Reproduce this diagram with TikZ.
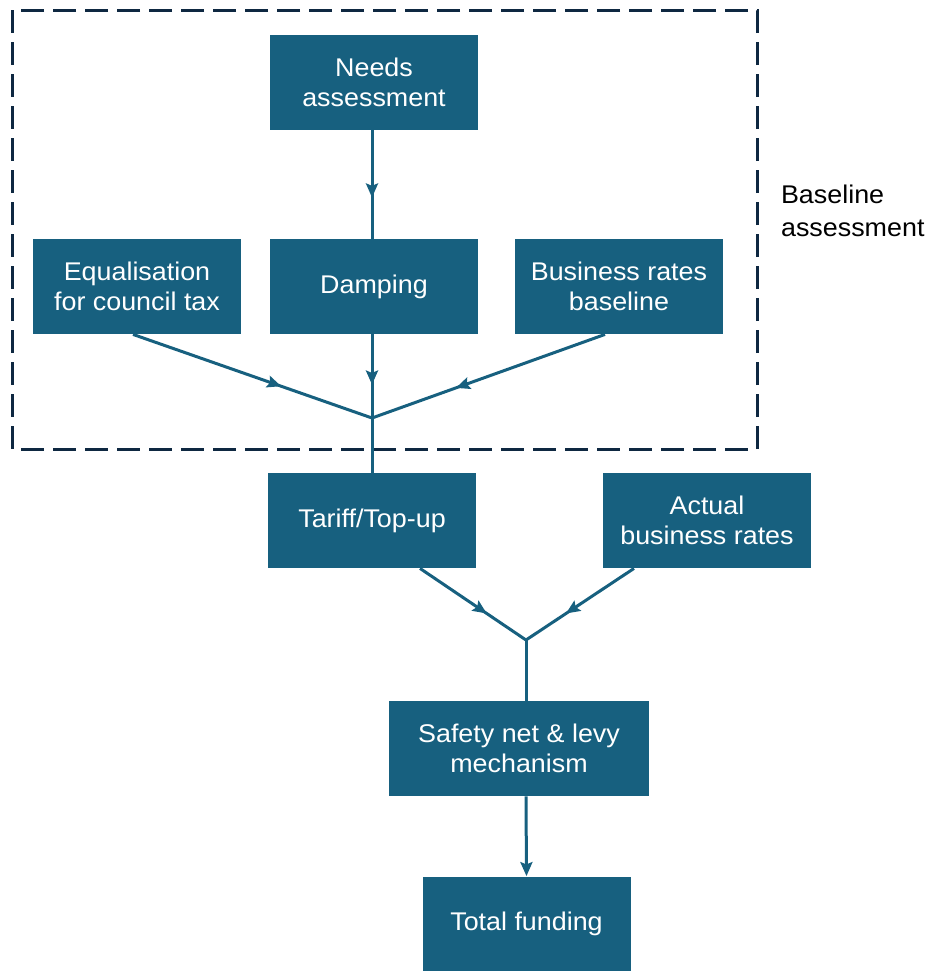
\documentclass[tikz,border=0pt]{standalone}
\usepackage{fontspec}
\setmainfont{Liberation Sans}[FakeStretch=1.05]
\usetikzlibrary{
  arrows.meta,           % Stealth 箭头
  decorations.markings   % 线段中部箭头
}
\definecolor{boxblue}{HTML}{17607F}
\definecolor{framenavy}{HTML}{0E2841}

\begin{document}
\begin{tikzpicture}[x=0.5pt, y=-0.5pt,
  >={Stealth[length=7pt, width=6pt, inset=1.2pt]},
  block/.style={fill=boxblue, text=white, minimum width=104pt, minimum height=47.5pt,
    inner sep=0pt, align=center, font=\fontsize{12.8}{15}\selectfont},
  link/.style={draw=boxblue, line width=1.5pt},
  midarrow/.style={link, postaction={decorate},
    decoration={markings, mark=at position #1 with {\arrow{>}}}}]

  \useasboundingbox (0,0) rectangle (932,971);

  % =========== 基线评估框 ===========
  \draw[framenavy, line width=1.5pt, dash pattern=on 11.5pt off 4.5pt] (12,10) rectangle (757,449);
  \node[anchor=north west, align=left, font=\fontsize{12.8}{16.5}\selectfont] (baselbl) at (774,178) {Baseline\\assessment};

  % =========== 各个方框 ===========
  \node[block] (needs)   at (374,82.5)  {Needs\\assessment};
  \node[block] (equal)   at (137,286.5) {Equalisation\\for council tax};
  \node[block] (damping) at (374,286.5) {Damping};
  \node[block] (bizbase) at (619,286.5) {Business rates\\baseline};
  \node[block] (tariff)  at (372,520.5) {Tariff/Top-up};
  \node[block] (actual)  at (707,520.5) {Actual\\business rates};
  \node[block, minimum width=130pt] (safety) at (519,748.5) {Safety net \& levy\\mechanism};
  \node[block] (total)   at (526.5,924) {Total funding};

  % 汇合点
  \coordinate (j1) at (372,418);
  \coordinate (j2) at (526,640);

  % =========== 连线 ===========
  \draw[midarrow=0.62] ([xshift=-1pt]needs.south) -- ([xshift=-1pt]damping.north);
  \draw[midarrow=0.62] ([xshift=-2pt]equal.south) -- (j1);
  \draw[midarrow=0.6]  ([xshift=-1pt]damping.south) -- (j1);
  \draw[midarrow=0.64] ([xshift=-7pt]bizbase.south) -- (j1);
  \draw[link] (j1) -- (tariff.north);

  \draw[midarrow=0.63] ([xshift=24pt]tariff.south) -- (j2);
  \draw[midarrow=0.63] ([xshift=-36.5pt]actual.south) -- (j2);
  \draw[link] (j2) -- ([xshift=3.5pt]safety.north);

  \draw[link, ->] ([xshift=3.5pt]safety.south) -- (total.north);

\end{tikzpicture}
\end{document}
